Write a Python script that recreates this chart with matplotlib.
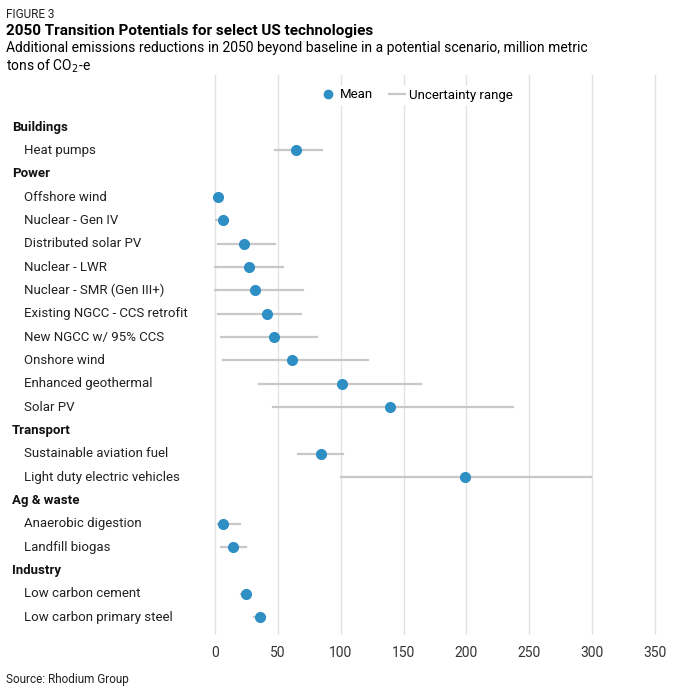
import matplotlib.pyplot as plt
from matplotlib.lines import Line2D
from matplotlib.transforms import blended_transform_factory

plt.rcParams['font.family'] = ['Roboto', 'DejaVu Sans']

groups = ["Buildings", "Power", "Transport", "Ag & waste", "Industry"]
items = [
    ["Heat pumps"],
    ["Offshore wind", "Nuclear - Gen IV", "Distributed solar PV", "Nuclear - LWR",
     "Nuclear - SMR (Gen III+)", "Existing NGCC - CCS retrofit", "New NGCC w/ 95% CCS",
     "Onshore wind", "Enhanced geothermal", "Solar PV"],
    ["Sustainable aviation fuel", "Light duty electric vehicles"],
    ["Anaerobic digestion", "Landfill biogas"],
    ["Low carbon cement", "Low carbon primary steel"],
]
means = [[64], [2, 6, 23, 27, 32, 41, 47, 61, 101, 139], [84, 199], [6, 14], [25, 36]]
lows = [[48], [2, 1, 2, 0, 0, 2, 5, 6, 35, 46], [66, 100], [2, 5], [21, 31]]
highs = [[85], [2, 10, 48, 54, 70, 68, 81, 122, 164, 237], [102, 299], [20, 25], [28, 40]]

fig = plt.figure(figsize=(6.94, 6.88), dpi=100)
ax = fig.add_axes([200/694, 53/688, 470/694, 560/688])
ax.set_xlim(-12, 362)
nrows = sum(len(i) + 1 for i in items)
ax.set_ylim(nrows - 1 + 0.77, -2.23)
trans = blended_transform_factory(fig.transFigure, ax.transData)
blue = '#2e8fc4'
r = 0
for g, its, ms, lo, hi in zip(groups, items, means, lows, highs):
    ax.text(12/694, r, g, transform=trans, fontweight='bold', fontsize=9.5, va='center', color='#111')
    r += 1
    for it, m, l, h in zip(its, ms, lo, hi):
        ax.text(24/694, r, it, transform=trans, fontsize=9.5, va='center', color='#222')
        ax.plot([l, h], [r, r], color='#c8c8c8', lw=1.6, zorder=2)
        ax.plot(m, r, 'o', color=blue, ms=7, zorder=3)
        r += 1

ax.set_xticks(range(0, 351, 50))
ax.grid(axis='x', color='#e2e2e2', lw=1)
ax.set_axisbelow(True)
ax.set_yticks([])
for s in ax.spines.values():
    s.set_visible(False)
ax.tick_params(axis='x', length=0, labelsize=10, colors='#333', pad=8)

handles = [Line2D([], [], marker='o', color=blue, ls='none', ms=6),
           Line2D([], [], color='#c8c8c8', lw=1.6)]
leg = fig.legend(handles, ['Mean', 'Uncertainty range'], loc='center', bbox_to_anchor=(0.60, 1 - 95/688),
                 ncol=2, frameon=True, fontsize=9.5, handlelength=1.2, handletextpad=0.3,
                 columnspacing=1.2, borderpad=0.2)
leg.get_frame().set_edgecolor('white')
leg.get_frame().set_alpha(1)

fig.text(6/694, 1 - 14/688, "FIGURE 3", fontsize=8.5, va='center', color='#222')
fig.text(6/694, 1 - 31/688, "2050 Transition Potentials for select US technologies", fontsize=11,
         fontweight='bold', va='center')
fig.text(6/694, 1 - 48/688, "Additional emissions reductions in 2050 beyond baseline in a potential scenario, million metric",
         fontsize=10, va='center')
fig.text(6/694, 1 - 66/688, "tons of CO$_2$-e", fontsize=10, va='center')
fig.text(6/694, 1 - 680/688, "Source: Rhodium Group", fontsize=8.5, va='center', color='#222')
fig.savefig('out.png', dpi=100)
